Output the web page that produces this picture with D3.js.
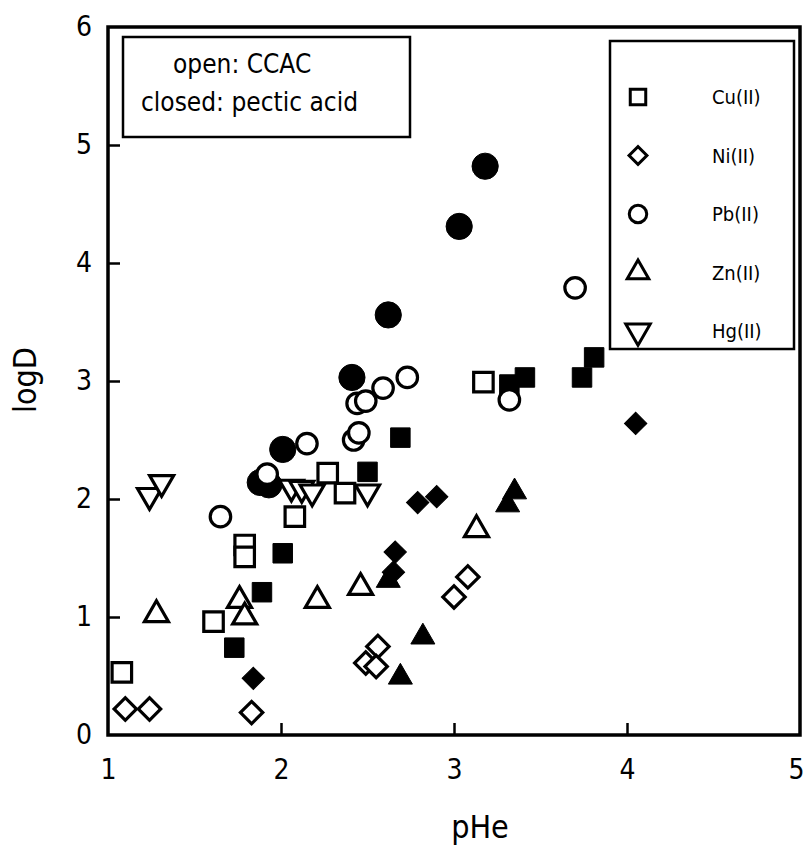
<html><head><script src="https://d3js.org/d3.v7.min.js"></script></head>
<body style="margin:0;background:white;">
<script>
// pHe / logD values
cuOpen=[[1.08,0.53],[1.61,0.96],[1.79,1.61],[1.79,1.51],[2.08,1.85],[2.27,2.22],[2.37,2.05],[3.17,2.99]];
cuClosed=[[1.73,0.74],[1.89,1.21],[2.01,1.54],[2.50,2.23],[2.69,2.52],[3.32,2.97],[3.41,3.03],[3.74,3.03],[3.81,3.20]];
niOpen=[[1.10,0.22],[1.24,0.22],[1.83,0.19],[2.56,0.75],[2.49,0.61],[2.55,0.58],[3.08,1.34],[3.00,1.17]];
niClosed=[[1.84,0.48],[2.66,1.55],[2.65,1.38],[2.79,1.97],[2.90,2.02],[4.05,2.64]];
pbOpen=[[1.65,1.85],[1.92,2.21],[2.15,2.47],[2.42,2.50],[2.45,2.56],[2.44,2.81],[2.49,2.83],[2.59,2.94],[2.73,3.03],[3.32,2.84],[3.70,3.79]];
pbClosed=[[3.18,4.82],[3.03,4.31],[2.62,3.56],[2.41,3.03],[2.01,2.42],[1.88,2.14],[1.93,2.12]];
znOpen=[[1.28,1.02],[1.76,1.14],[1.79,1.00],[2.21,1.14],[2.46,1.25],[3.13,1.74]];
znClosed=[[2.62,1.31],[2.82,0.83],[2.69,0.49],[3.31,1.95],[3.35,2.06]];
hgOpen=[[1.24,2.03],[1.31,2.14],[2.06,2.10],[2.12,2.09],[2.18,2.06],[2.50,2.06]];

xTicks=[1,2,3,4,5];
yTicks=[0,1,2,3,4,5,6];
legendNames=["Cu(II)","Ni(II)","Pb(II)","Zn(II)","Hg(II)"];
noteLines=["open: CCAC","closed: pectic acid"];

W=806;H=848;
pL=108;pR=800;pT=27;pB=735;

x=d3.scaleLinear().domain([1,5]).range([pL,pR]);
y=d3.scaleLinear().domain([0,6]).range([pB,pT]);

svg=d3.select("body").append("svg").attr("width",W).attr("height",H);
fnt="'DejaVu Sans Condensed','Liberation Sans Narrow','Liberation Sans',sans-serif";

// shapes: square, diamond, circle, up triangle, down triangle
shapes={
  sq:{type:d3.symbolSquare,size:380,rot:0},
  di:{type:d3.symbolSquare,size:250,rot:45},
  ci:{type:d3.symbolCircle,size:330,rot:0},
  cif:{type:d3.symbolCircle,size:540,rot:0},
  tu:{type:d3.symbolTriangle,size:250,rot:0},
  td:{type:d3.symbolTriangle,size:250,rot:180}
};

drawSeries=function(data,shape,filled){
  s=shapes[shape];
  svg.append("g").selectAll("path")
  .data(data)
  .enter()
  .append("path")
  .attr("d",d3.symbol().type(s.type).size(s.size))
  .attr("transform",function(d){return "translate("+x(d[0])+","+y(d[1])+") rotate("+s.rot+")";})
  .attr("fill",filled?"black":"white")
  .attr("stroke","black")
  .attr("stroke-width",filled?1:3.2)
  .attr("stroke-linejoin","miter");
}

// closed first, open on top like the figure mostly
drawSeries(pbClosed,"cif",true);
drawSeries(cuClosed,"sq",true);
drawSeries(znClosed,"tu",true);
drawSeries(niClosed,"di",true);
drawSeries(pbOpen,"ci",false);
drawSeries(cuOpen,"sq",false);
drawSeries(niOpen,"di",false);
drawSeries(znOpen,"tu",false);
drawSeries(hgOpen,"td",false);

// axes, ticks pointing inward
xa=svg.append("g").attr("transform","translate(0,"+pB+")")
.call(d3.axisBottom(x).tickValues(xTicks).tickFormat(d3.format("d")).tickSizeInner(-12).tickSizeOuter(0).tickPadding(24));
ya=svg.append("g").attr("transform","translate("+pL+",0)")
.call(d3.axisLeft(y).tickValues(yTicks).tickFormat(d3.format("d")).tickSizeInner(-12).tickSizeOuter(0).tickPadding(16));
[xa,ya].forEach(function(a){
  a.select(".domain").remove();
  a.selectAll("line").attr("stroke","black").attr("stroke-width",2.5);
  a.selectAll("text").attr("font-family",fnt).attr("font-size",28).attr("fill","black");
});
xa.selectAll(".tick").filter(function(d){return d==1||d==5;}).select("line").remove();
ya.selectAll(".tick").filter(function(d){return d==0||d==6;}).select("line").remove();
// keep the last x label inside the window
xa.selectAll(".tick").filter(function(d){return d==5;}).select("text").attr("text-anchor","end").attr("dx",4);

svg.append("rect")
.attr("x",pL).attr("y",pT).attr("width",pR-pL).attr("height",pB-pT)
.attr("fill","none").attr("stroke","black").attr("stroke-width",3.5);

svg.append("text").attr("x",480).attr("y",838)
.attr("text-anchor","middle").attr("font-family",fnt).attr("font-size",32).text("pHe");
svg.append("text").attr("transform","translate(36,380) rotate(-90)")
.attr("text-anchor","middle").attr("font-family",fnt).attr("font-size",32).text("logD");

// note box
svg.append("rect").attr("x",123).attr("y",37).attr("width",287).attr("height",100)
.attr("fill","white").attr("stroke","black").attr("stroke-width",2.5);
svg.append("text").attr("x",173).attr("y",73).attr("font-family",fnt).attr("font-size",26).text(noteLines[0]);
svg.append("text").attr("x",141).attr("y",111).attr("font-family",fnt).attr("font-size",26).text(noteLines[1]);

// legend box
svg.append("rect").attr("x",610).attr("y",41).attr("width",184).attr("height",308)
.attr("fill","white").attr("stroke","black").attr("stroke-width",2.5);
legShapes=[["sq",240],["di",160],["ci",240],["tu",200],["td",260]];
lg=svg.append("g").selectAll("g").data(legendNames).enter().append("g")
.attr("transform",function(d,i){return "translate(0,"+(97+i*58.5)+")";});
lg.append("path")
.attr("d",function(d,i){return d3.symbol().type(shapes[legShapes[i][0]].type).size(legShapes[i][1])();})
.attr("transform",function(d,i){return "translate(638,0) rotate("+shapes[legShapes[i][0]].rot+")";})
.attr("fill","white").attr("stroke","black").attr("stroke-width",3);
lg.append("text").attr("x",712).attr("y",7).attr("font-family",fnt).attr("font-size",20)
.text(function(d){return d;});
</script>
</body></html>
